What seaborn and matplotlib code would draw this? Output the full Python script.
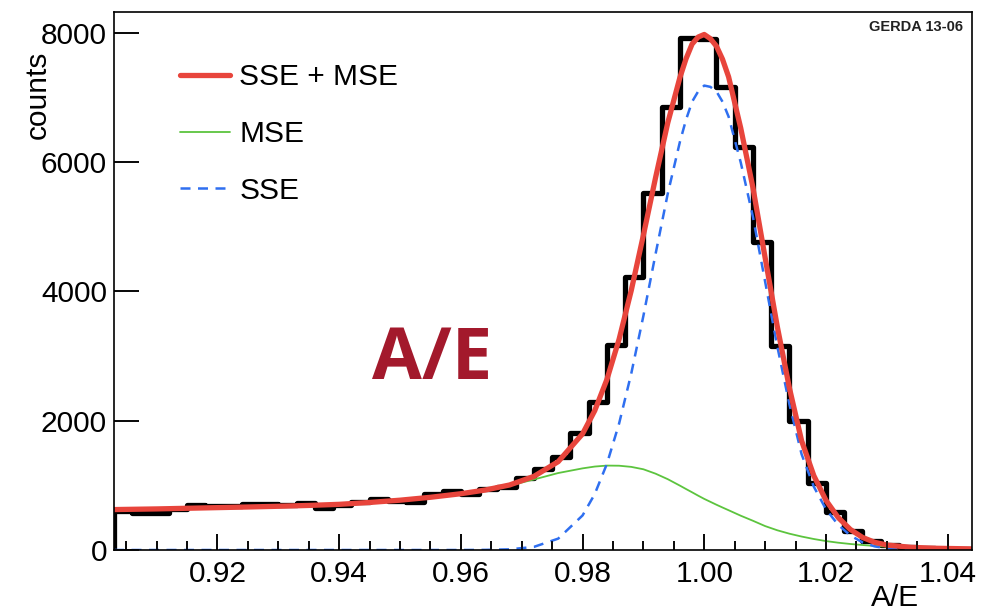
import numpy as np
import pandas as pd
import matplotlib
matplotlib.use("Agg")
import matplotlib.pyplot as plt
from matplotlib.ticker import MultipleLocator
import seaborn as sns

# ---------------- data ----------------
bin_lo = 0.903
bin_width = 0.003
counts = [600, 567, 567, 640, 696, 675, 685, 707, 707, 690,
          722, 648, 690, 747, 784, 765, 735, 861, 912, 861,
          940, 979, 1109, 1248, 1443, 1804, 2294, 3170, 4227, 5526,
          6846, 7920, 7905, 7160, 6237, 4760, 3160, 2000, 1031, 580,
          290, 144, 70, 40, 25, 15, 10]

fit_x = [0.903, 0.910, 0.915, 0.920, 0.925, 0.930, 0.935, 0.940, 0.945, 0.950,
         0.955, 0.960, 0.964, 0.968, 0.972, 0.976, 0.980, 0.982, 0.984, 0.986,
         0.988, 0.990, 0.992, 0.994, 0.996, 0.997, 0.998, 0.999, 1.000, 1.001,
         1.002, 1.003, 1.004, 1.006,
         1.008, 1.010, 1.012, 1.014, 1.016, 1.018, 1.020, 1.022, 1.024, 1.026,
         1.028, 1.030, 1.034, 1.038, 1.044]
sse = [0, 0, 0, 0, 0, 0, 0, 0, 0, 0,
       0, 0, 2, 10, 48, 176, 534, 864, 1331, 1953,
       2726, 3620, 4577, 5508, 6310, 6650, 6930, 7090, 7180, 7160,
       7090, 6930, 6700, 5990,
       5150, 4150, 3150, 2250, 1480, 980, 630, 390, 225, 118,
       56, 25, 5, 1, 0]
mse = [625, 635, 645, 655, 665, 676, 689, 706, 735, 770,
       815, 870, 925, 995, 1090, 1190, 1262, 1290, 1305, 1303,
       1285, 1248, 1180, 1095, 995, 943, 892, 840, 790, 745,
       700, 657, 615, 530,
       452, 370, 305, 252, 208, 170, 138, 113, 93, 77,
       63, 52, 36, 26, 17]
total = [625, 635, 645, 655, 665, 676, 689, 706, 735, 770,
         815, 870, 927, 1005, 1138, 1366, 1796, 2154, 2636, 3256,
         4011, 4868, 5757, 6603, 7305, 7593, 7822, 7930, 7970, 7905,
         7790, 7587, 7315, 6520,
         5602, 4520, 3455, 2502, 1688, 1150, 768, 503, 318, 195,
         119, 77, 41, 27, 17]

x_ticks = [0.92, 0.94, 0.96, 0.98, 1.00, 1.02, 1.04]
x_tick_labels = ["0.92", "0.94", "0.96", "0.98", "1.00", "1.02", "1.04"]
y_ticks = [0, 2000, 4000, 6000, 8000]
y_tick_labels = ["0", "2000", "4000", "6000", "8000"]
legend_labels = ["SSE + MSE", "MSE", "SSE"]

edges = [bin_lo + bin_width * i for i in range(len(counts) + 1)]
centers = [e + bin_width / 2 for e in edges[:-1]]
hist_df = pd.DataFrame({"ae": centers, "n": counts})
fit_df = pd.DataFrame({"ae": fit_x, "sse": sse, "mse": mse, "total": total})

# ---------------- style ----------------
sns.set_style("ticks")
plt.rcParams["font.family"] = ["Liberation Sans", "DejaVu Sans"]

fig = plt.figure(figsize=(10.04, 6.11), dpi=100)
ax = fig.add_axes([114 / 1004, 1 - 550 / 611, 858 / 1004, 538.5 / 611])

red = "#e8453c"
green = "#5cc43e"
blue = "#2f6ff0"

sns.histplot(data=hist_df, x="ae", weights="n", bins=edges, element="step",
             fill=False, color="black", linewidth=3.8, ax=ax)
ax.vlines(edges[0], 0, counts[0], color="black", linewidth=3.8)

sns.lineplot(data=fit_df, x="ae", y="mse", color=green, linewidth=1.3, ax=ax,
             label=legend_labels[1])
sns.lineplot(data=fit_df, x="ae", y="sse", color=blue, linewidth=1.8,
             ax=ax, label=legend_labels[2])
ax.lines[-1].set_dashes((4, 3))
sns.lineplot(data=fit_df, x="ae", y="total", color=red, linewidth=3.8, ax=ax,
             label=legend_labels[0])

for s in ax.spines.values():
    s.set_visible(True)
    s.set_linewidth(1.2)
    s.set_color("black")

ax.set_ylabel("counts", fontsize=21.5, color="black")
ax.yaxis.set_label_coords((38 - 114) / 858, (550 - 95) / 538.5)
ax.yaxis.label.set_va("center")
ax.set_xlabel("A/E", fontsize=21.5, color="black")
ax.xaxis.set_label_coords((895 - 114) / 858, (550 - 598) / 538.5)
ax.xaxis.label.set_va("center")

handles, labels = ax.get_legend_handles_labels()
order = [labels.index(l) for l in legend_labels]
leg = ax.legend([handles[i] for i in order], [labels[i] for i in order],
                loc="upper left", bbox_to_anchor=((180 - 114) / 858, (550 - 63) / 538.5),
                frameon=False, fontsize=21.5, handlelength=1.67, handletextpad=0.32,
                labelspacing=0.97, borderpad=0, borderaxespad=0)
for t in leg.get_texts():
    t.set_color("black")

ax.text(0.9895, 0.984, "GERDA 13-06", transform=ax.transAxes, ha="right", va="top",
        fontsize=10.5, fontweight="bold", color="#222222")

ax.text((432 - 114) / 858, (550 - 360) / 538.5, "A/E", transform=ax.transAxes,
        ha="center", va="center", fontsize=52, fontweight="bold",
        color="#a3192c", family=["Open Sans", "DejaVu Sans"])

# ---------------- axis ticks ----------------
ax.set_xticks(x_ticks, labels=x_tick_labels)
ax.set_yticks(y_ticks, labels=y_tick_labels)
ax.xaxis.set_minor_locator(MultipleLocator(0.005))
ax.yaxis.set_minor_locator(matplotlib.ticker.NullLocator())
ax.set_xlim(edges[0], edges[-1])
ax.set_ylim(0, 8325)
ax.tick_params(axis="x", which="major", direction="in", length=11.5, width=1.1,
               labelsize=21.5, pad=7, bottom=True, top=False, color="black",
               labelcolor="black")
ax.tick_params(axis="x", which="minor", direction="in", length=6.5, width=1.1,
               bottom=True, top=False, color="black")
ax.tick_params(axis="y", which="major", direction="in", length=18, width=1.1,
               labelsize=21.5, pad=5, left=True, right=False, color="black",
               labelcolor="black")

# inward tick marks drawn explicitly at the axis tick locations (ROOT style)
xt = ax.get_xaxis_transform()
yt = ax.get_yaxis_transform()
ax.vlines(ax.get_xticks(), 0, 16 / 538.5, transform=xt, color="black",
          linewidth=1.1, zorder=2.6)
ax.vlines(ax.xaxis.get_minorticklocs(), 0, 9 / 538.5, transform=xt,
          color="black", linewidth=1.1, zorder=2.6)
ax.hlines(ax.get_yticks(), 0, 25 / 858, transform=yt, color="black",
          linewidth=1.1, zorder=2.6)
ax.set_xlim(edges[0], edges[-1])
ax.set_ylim(0, 8325)

fig.savefig("out.png", dpi=100)
